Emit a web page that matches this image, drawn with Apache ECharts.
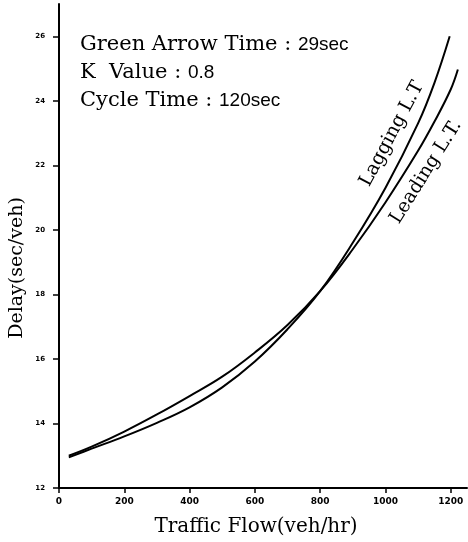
<!DOCTYPE html>
<html>
<head>
<meta charset="utf-8">
<script src="https://cdn.jsdelivr.net/npm/echarts@6/dist/echarts.min.js"></script>
<style>html,body{margin:0;padding:0;background:#fff;}#c{width:468px;height:542px;}</style>
</head>
<body>
<div id="c"></div>
<script>
// Data
var flowLeading  = [30, 100, 200, 300, 400, 500, 600, 700, 800, 900, 1000, 1100, 1150, 1200, 1222];
var delayLeading = [13.0, 13.28, 13.75, 14.28, 14.85, 15.45, 16.2, 17.05, 18.1, 19.4, 20.85, 22.45, 23.35, 24.35, 24.97];
var flowLagging  = [30, 100, 200, 300, 400, 500, 600, 700, 800, 900, 1000, 1100, 1150, 1197];
var delayLagging = [12.95, 13.22, 13.6, 14.02, 14.5, 15.12, 15.92, 16.92, 18.1, 19.6, 21.3, 23.3, 24.55, 26.0];
var xTicks = [0, 200, 400, 600, 800, 1000, 1200];
var yTicks = [12, 14, 16, 18, 20, 22, 24, 26];
var seriesNames = ['Leading L.T.', 'Lagging L.T'];
var infoLines = [['Green Arrow Time : ', '29sec'], ['K  Value : ', '0.8'], ['Cycle Time : ', '120sec']];

function pairs(xs, ys) { return xs.map(function (x, i) { return [x, ys[i]]; }); }

var chart = echarts.init(document.getElementById('c'));
var serif = '"DejaVu Serif", serif';
var sans = '"DejaVu Sans", sans-serif';

var infoGraphics = infoLines.map(function (l, i) {
  return {
    type: 'text', left: 80, top: 34 + i * 28,
    style: {
      text: '{a|' + l[0] + '}{b|' + l[1] + '}',
      rich: {
        a: { fontFamily: serif, fontSize: 21, fill: '#000' },
        b: { fontFamily: '"Liberation Sans", sans-serif', fontSize: 19, fill: '#000' }
      }
    }
  };
});

chart.setOption({
  animation: false,
  backgroundColor: '#fff',
  grid: { left: 59, right: 1, top: 4, bottom: 54 },
  xAxis: {
    type: 'value', min: 0, max: 1250,
    axisLine: { lineStyle: { color: '#000', width: 2 } },
    axisTick: { show: true, length: 5, lineStyle: { color: '#000', width: 1.5 }, customValues: xTicks },
    axisLabel: { customValues: xTicks, margin: 9, fontFamily: sans, fontWeight: 'bold', fontSize: 9, color: '#000',
      formatter: function (v) { return String(v); } },
    splitLine: { show: false }
  },
  yAxis: {
    type: 'value', min: 12, max: 27,
    axisLine: { show: true, lineStyle: { color: '#000', width: 2 } },
    axisTick: { show: true, length: 6, lineStyle: { color: '#000', width: 1.5 }, customValues: yTicks },
    axisLabel: { customValues: yTicks, margin: 14, fontFamily: sans, fontWeight: 'bold', fontSize: 7, color: '#000',
      formatter: function (v) { return String(v); } },
    splitLine: { show: false }
  },
  series: [
    { name: seriesNames[0], type: 'line', data: pairs(flowLeading, delayLeading), smooth: 0.4, symbol: 'none',
      lineStyle: { color: '#000', width: 2 } },
    { name: seriesNames[1], type: 'line', data: pairs(flowLagging, delayLagging), smooth: 0.4, symbol: 'none',
      lineStyle: { color: '#000', width: 2 } }
  ],
  graphic: infoGraphics.concat([
    { type: 'text', x: 256, y: 527, style: { text: 'Traffic Flow(veh/hr)', fontFamily: serif, fontSize: 20, fill: '#000', align: 'center', verticalAlign: 'middle' } },
    { type: 'text', x: 17, y: 268, rotation: Math.PI / 2, style: { text: 'Delay(sec/veh)', fontFamily: serif, fontSize: 19, fill: '#000', align: 'center', verticalAlign: 'middle' } },
    { type: 'text', x: 392, y: 134, rotation: 62 * Math.PI / 180, style: { text: seriesNames[1], fontFamily: serif, fontSize: 19, fill: '#000', align: 'center', verticalAlign: 'middle' } },
    { type: 'text', x: 426, y: 172, rotation: 58 * Math.PI / 180, style: { text: seriesNames[0], fontFamily: serif, fontSize: 19, fill: '#000', align: 'center', verticalAlign: 'middle' } }
  ])
});
</script>
</body>
</html>
